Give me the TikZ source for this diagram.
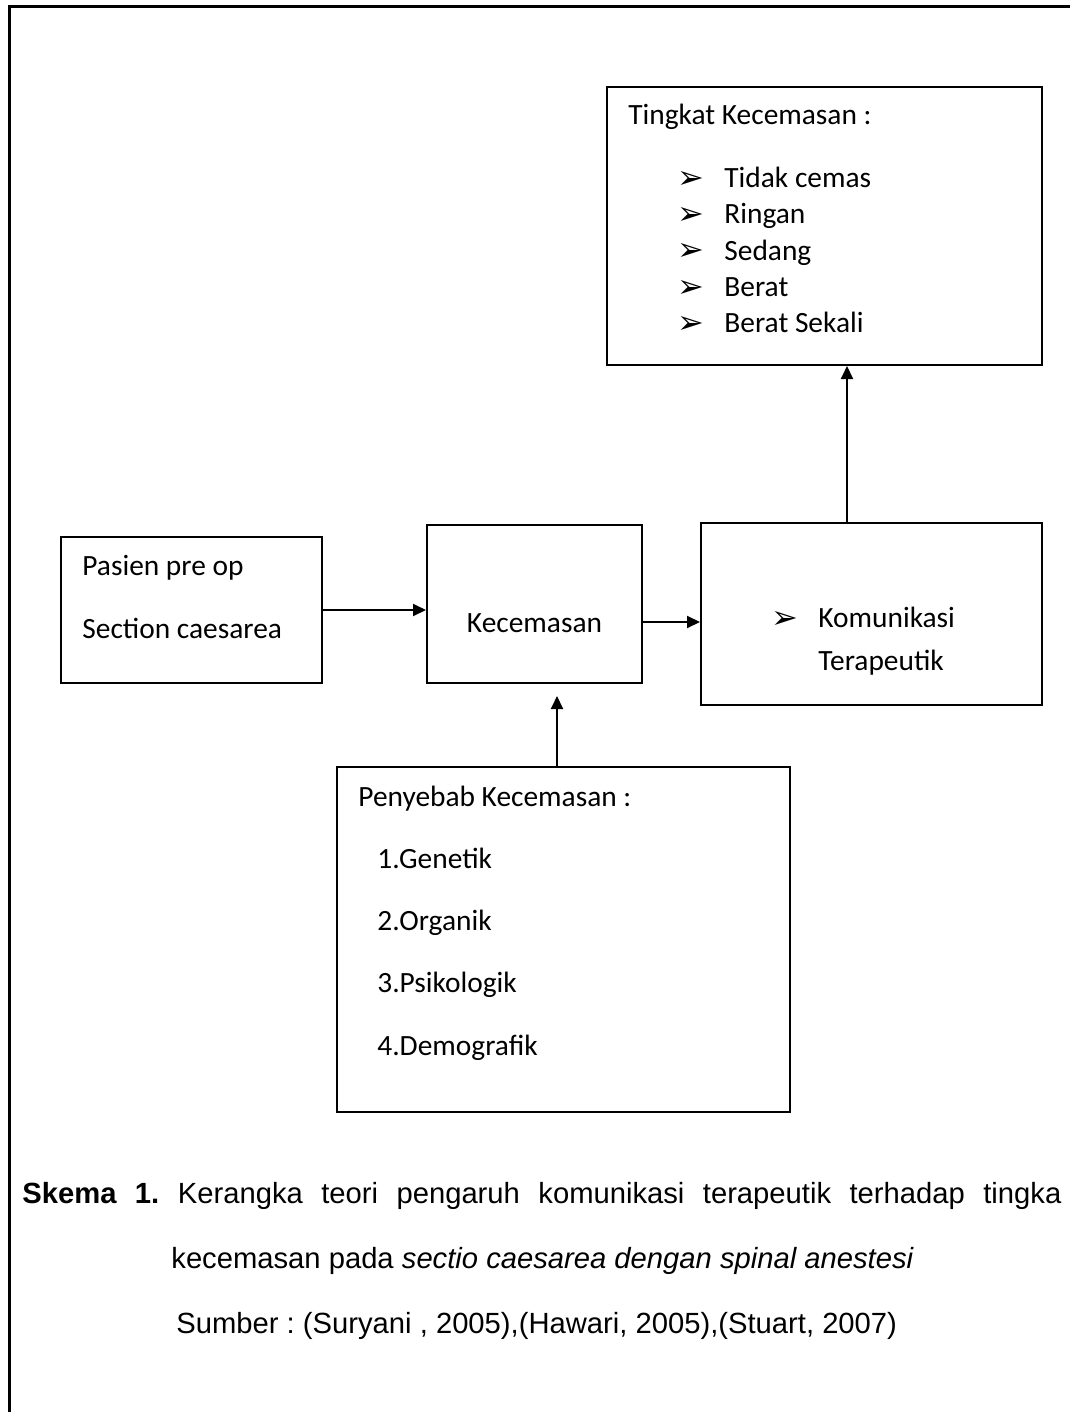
\documentclass[tikz,border=0pt]{standalone}
\usepackage{fontspec}
\setmainfont{Carlito}
\newfontfamily\capfont{Liberation Sans}
\newfontfamily\dingfont{DejaVu Sans}
\usepackage{tikz}
\usetikzlibrary{positioning,arrows.meta}
\frenchspacing

\begin{document}
\begin{tikzpicture}[
    x=0.5pt, y=-0.5pt,
    box/.style={draw, line width=1pt, inner sep=0pt},
    txt/.style={anchor=base west, inner sep=0pt, font=\fontsize{14.7}{17}\selectfont},
    bul/.style={anchor=base west, inner sep=0pt, font=\dingfont\fontsize{16}{19}\selectfont},
    captxt/.style={anchor=base west, inner sep=0pt, font=\capfont\fontsize{14.6}{18}\selectfont},
    arr/.style={-{Triangle[length=6.5pt, width=6pt]}, line width=1pt}
  ]
  \useasboundingbox (0,0) rectangle (1070,1412);

  % outer frame (open on the right and bottom)
  \coordinate (fbl) at (9,1412);
  \coordinate (ftl) at (9,7);
  \coordinate (ftr) at (1070,7);
  \draw[line width=1.5pt] (fbl) -- (ftl) -- (ftr);

  % boxes
  \node[box, minimum width=217.5pt, minimum height=139pt] (tingkat) at (824.5,226) {};
  \node[box, minimum width=130.5pt, minimum height=73pt]  (pasien)  at (191.5,610) {};
  \node[box, minimum width=107.5pt, minimum height=79pt]  (cemas)   at (534.5,604) {};
  \node[box, minimum width=170.5pt, minimum height=91pt]  (komter)  at (871.5,614) {};
  \node[box, minimum width=226.5pt, minimum height=172.5pt] (sebab) at (563.5,939.5) {};

  % texts of the boxes
  \node[txt] (tk0) at (628,125) {Tingkat Kecemasan :};
  \foreach \lbl [count=\i] in {Tidak cemas, Ringan, Sedang, Berat, Berat Sekali} {
    \node[bul] (tb\i) at (677,153+36*\i) {➢};
    \node[txt] (tk\i) at (724,152+36*\i) {\lbl};
  }

  \node[txt] (ps1) at (82,575) {Pasien pre op};
  \node[txt] (ps2) at (82,638) {Section caesarea};

  \node[txt, anchor=base] (cm) at (534.5,632) {Kecemasan};

  \node[bul] (kb) at (771,628) {➢};
  \node[txt] (kt1) at (818,627) {Komunikasi};
  \node[txt] (kt2) at (818,670) {Terapeutik};

  \node[txt] (sb0) at (358,806) {Penyebab Kecemasan :};
  \foreach \lbl [count=\i] in {1.Genetik, 2.Organik, 3.Psikologik, 4.Demografik}
    \node[txt] (sb\i) at (377,806+62.3*\i) {\lbl};

  % connectors
  \draw[arr] (pasien.east) -- (pasien.east -| cemas.west);
  \draw[arr] ([yshift=-9pt]cemas.east) -- ([yshift=-9pt]cemas.east -| komter.west);
  \draw[arr] ([xshift=-12.25pt]komter.north) -- ([xshift=-12.25pt]komter.north |- tingkat.south);
  \draw[arr, shorten >=6pt] ([xshift=-3.25pt]sebab.north) -- ([xshift=-3.25pt]sebab.north |- cemas.south);

  % caption
  \node[captxt] (cap1) at (22,1203)
    {\makebox[519.5pt][s]{\textbf{Skema 1.} Kerangka teori pengaruh komunikasi terapeutik terhadap tingka}};
  \node[captxt] (cap2) at (171,1268)
    {kecemasan pada \textit{sectio caesarea dengan spinal anestesi}};
  \node[captxt] (cap3) at (176,1333)
    {Sumber : (Suryani , 2005),(Hawari, 2005),(Stuart, 2007)};
\end{tikzpicture}
\end{document}
